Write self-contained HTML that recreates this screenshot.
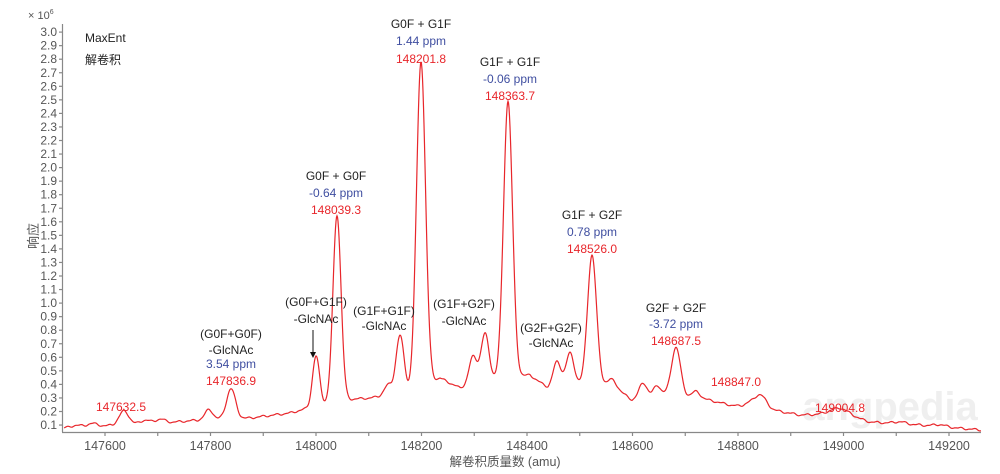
<!DOCTYPE html>
<html><head><meta charset="utf-8"><style>
html,body{margin:0;padding:0;background:#fff;width:1000px;height:474px;overflow:hidden}
svg text{font-family:"Liberation Sans","Noto Sans CJK SC",sans-serif}
</style></head><body>
<svg id="s" width="1000" height="474" viewBox="0 0 1000 474" xmlns="http://www.w3.org/2000/svg">
<g id="ax" stroke="#888" stroke-width="1.2" fill="none">
<line x1="62.5" y1="24" x2="62.5" y2="432"/>
<line x1="62" y1="432.5" x2="981" y2="432.5"/>
</g>
<g id="yt" font-size="12" fill="#555" text-anchor="end"></g>
<g id="xt" font-size="12.5" fill="#555" text-anchor="middle"></g>
<text x="28" y="19" font-size="11" fill="#555">× 10<tspan font-size="7" dy="-5">6</tspan></text>
<text x="38" y="236" font-size="13" fill="#555" text-anchor="middle" transform="rotate(-90 38 236)">响应</text>
<text x="505" y="466" font-size="12.5" fill="#555" text-anchor="middle">解卷积质量数 (amu)</text>
<text x="85" y="42" font-size="12" fill="#222">MaxEnt</text>
<text x="85" y="64" font-size="12" fill="#222">解卷积</text>
<text x="890" y="420" font-size="40" fill="#ccc" opacity="0.3" text-anchor="middle" font-weight="bold">angpedia</text>
<path id="p" fill="none" stroke="#e8262b" stroke-width="1.2"/>
<g font-size="12" text-anchor="middle">
<g fill="#222">
<text x="421" y="28">G0F + G1F</text>
<text x="510" y="66">G1F + G1F</text>
<text x="336" y="180">G0F + G0F</text>
<text x="592" y="219">G1F + G2F</text>
<text x="676" y="312">G2F + G2F</text>
<text x="231" y="338">(G0F+G0F)</text>
<text x="231" y="354">-GlcNAc</text>
<text x="316" y="306">(G0F+G1F)</text>
<text x="316" y="323">-GlcNAc</text>
<text x="384" y="315">(G1F+G1F)</text>
<text x="384" y="330">-GlcNAc</text>
<text x="464" y="308">(G1F+G2F)</text>
<text x="464" y="325">-GlcNAc</text>
<text x="551" y="332">(G2F+G2F)</text>
<text x="551" y="347">-GlcNAc</text>
</g>
<g fill="#3f4ea0">
<text x="421" y="45">1.44 ppm</text>
<text x="510" y="83">-0.06 ppm</text>
<text x="336" y="197">-0.64 ppm</text>
<text x="592" y="236">0.78 ppm</text>
<text x="676" y="328">-3.72 ppm</text>
<text x="231" y="368">3.54 ppm</text>
</g>
<g fill="#e8262b">
<text x="421" y="63">148201.8</text>
<text x="510" y="100">148363.7</text>
<text x="336" y="214">148039.3</text>
<text x="592" y="253">148526.0</text>
<text x="676" y="345">148687.5</text>
<text x="231" y="385">147836.9</text>
<text x="121" y="411">147632.5</text>
<text x="736" y="386">148847.0</text>
<text x="840" y="412">149004.8</text>
</g>
</g>
<line x1="313" y1="330" x2="313" y2="354" stroke="#111" stroke-width="1"/>
<path d="M310 352 L313 358 L316 352 Z" fill="#111"/>
</svg>
<script>
var NS="http://www.w3.org/2000/svg";
var yt=document.getElementById('yt'),xt=document.getElementById('xt'),ax=document.getElementById('ax');
for(var i=1;i<=30;i++){var y=438.6-i*13.55;
var t=document.createElementNS(NS,'text');t.setAttribute('x',57);t.setAttribute('y',y+4);t.textContent=(i/10).toFixed(1);yt.appendChild(t);
var l=document.createElementNS(NS,'line');l.setAttribute('x1',59);l.setAttribute('x2',62);l.setAttribute('y1',y);l.setAttribute('y2',y);ax.appendChild(l);}
for(var m=147600;m<=149200;m+=100){var x=316+(m-148000)*0.5275;
var l=document.createElementNS(NS,'line');l.setAttribute('x1',x);l.setAttribute('x2',x);l.setAttribute('y1',432);l.setAttribute('y2',436);ax.appendChild(l);
if(m%200==0){var t=document.createElementNS(NS,'text');t.setAttribute('x',x);t.setAttribute('y',450);t.textContent=m;xt.appendChild(t);}}
var B=[[64,428],[100,426],[150,424],[200,420],[250,418],[290,413],[340,400],[370,398],[410,392],[440,378],[460,388],[500,378],[530,375],[548,388],[580,384],[610,384],[632,400],[665,394],[700,398],[730,405],[772,410],[800,415],[840,414],[870,422],[920,425],[981,430]];
function base(x){for(var i=0;i<B.length-1;i++){if(x<=B[i+1][0]){var f=(x-B[i][0])/(B[i+1][0]-B[i][0]);return B[i][1]+f*(B[i+1][1]-B[i][1]);}}return 430;}
var P=[[76,2,5],[92,3,5],[124,14,5],[145,4,5],[160,4,5],[209,10,4],[231,30,4.5],[316,50,3.5],[337,186,4],[388,10,4],[400,58,4],[421,326,4.5],[473,28,4],[485,48,4],[508,276,4.5],[557,25,4],[570,32,4],[592,129,4.5],[613,6,4],[643,15,4],[657,10,3.5],[676,48,4.5],[696,6,4],[748,3,4],[760,14,6],[840,6,10],[900,2,6],[940,2,6]];
var d='';
for(var x=64;x<=981;x+=0.5){var y=base(x);for(var j=0;j<P.length;j++){var q=P[j];var u=(x-q[0])/q[2];y-=q[1]*Math.exp(-0.5*u*u);}
y+=0.8*Math.sin(x*0.45)+0.4*Math.sin(x*0.9);
d+=(x==64?'M':'L')+x+' '+y.toFixed(1);}
document.getElementById('p').setAttribute('d',d);
</script>
</body></html>
